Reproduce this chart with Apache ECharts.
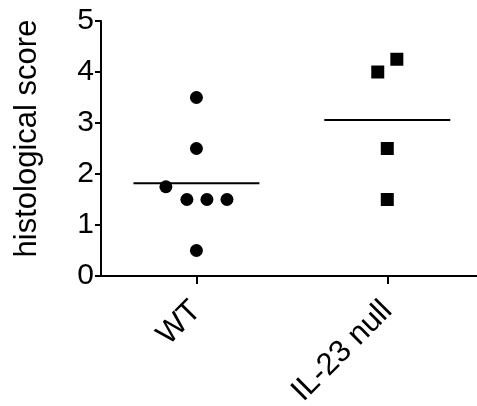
<!DOCTYPE html>
<html>
<head>
<meta charset="utf-8">
<script src="https://cdn.jsdelivr.net/npm/echarts@6/dist/echarts.min.js"></script>
<style>
  html, body { margin: 0; padding: 0; background: #fff; }
  #chart { width: 477px; height: 406px; }
</style>
</head>
<body>
<div id="chart"></div>
<script>
// groups and their x slot on the axis
var categories = ["WT", "IL-23 null"];
var groupPos = [1, 2];

// WT points (x jitter, score)
var wtX = [1, 1, 0.84, 0.95, 1.055, 1.16, 1];
var wtY = [3.5, 2.5, 1.75, 1.5, 1.5, 1.5, 0.5];

// IL-23 null points
var ilX = [1.95, 2.05, 2, 2];
var ilY = [4, 4.25, 2.5, 1.5];

// group means (horizontal bars)
var means = [1.82, 3.06];
var meanHalfWidth = 0.33;

var yTicks = [0, 1, 2, 3, 4, 5];

function pairs(xs, ys) {
  return xs.map(function (x, i) { return [x, ys[i]]; });
}

var chart = echarts.init(document.getElementById("chart"));
var font = "Liberation Sans";

chart.setOption({
  animation: false,
  grid: { left: 101, right: 0, top: 21, bottom: 130, outerBoundsMode: "none" },
  xAxis: {
    type: "value",
    min: 0.5,
    max: 2.47,
    splitLine: { show: false },
    axisLine: { show: true, lineStyle: { color: "#000", width: 2 } },
    axisTick: { show: true, length: 8, lineStyle: { color: "#000", width: 2 }, customValues: groupPos },
    axisLabel: {
      customValues: groupPos,
      rotate: 45,
      margin: 30,
      color: "#000",
      fontFamily: font,
      fontSize: 31,
      formatter: function (v) { return categories[groupPos.indexOf(v)]; }
    }
  },
  yAxis: {
    type: "value",
    min: yTicks[0],
    max: yTicks[yTicks.length - 1],
    interval: 1,
    name: "histological score",
    nameLocation: "middle",
    nameGap: 58,
    nameTextStyle: { color: "#000", fontFamily: font, fontSize: 31, padding: [0, 0, 0, 20] },
    splitLine: { show: false },
    axisLine: { show: true, lineStyle: { color: "#000", width: 2 } },
    axisTick: { show: true, length: 6, lineStyle: { color: "#000", width: 2 } },
    axisLabel: { color: "#000", fontFamily: font, fontSize: 30, margin: 7 }
  },
  series: [
    {
      type: "scatter",
      symbol: "circle",
      symbolSize: 13,
      itemStyle: { color: "#000", opacity: 1 },
      data: pairs(wtX, wtY)
    },
    {
      type: "scatter",
      symbol: "rect",
      symbolSize: 13,
      itemStyle: { color: "#000", opacity: 1 },
      data: pairs(ilX, ilY)
    },
    {
      type: "line",
      symbol: "none",
      lineStyle: { color: "#000", width: 2 },
      data: [[groupPos[0] - meanHalfWidth, means[0]], [groupPos[0] + meanHalfWidth, means[0]]]
    },
    {
      type: "line",
      symbol: "none",
      lineStyle: { color: "#000", width: 2 },
      data: [[groupPos[1] - meanHalfWidth, means[1]], [groupPos[1] + meanHalfWidth, means[1]]]
    }
  ]
});
</script>
</body>
</html>
